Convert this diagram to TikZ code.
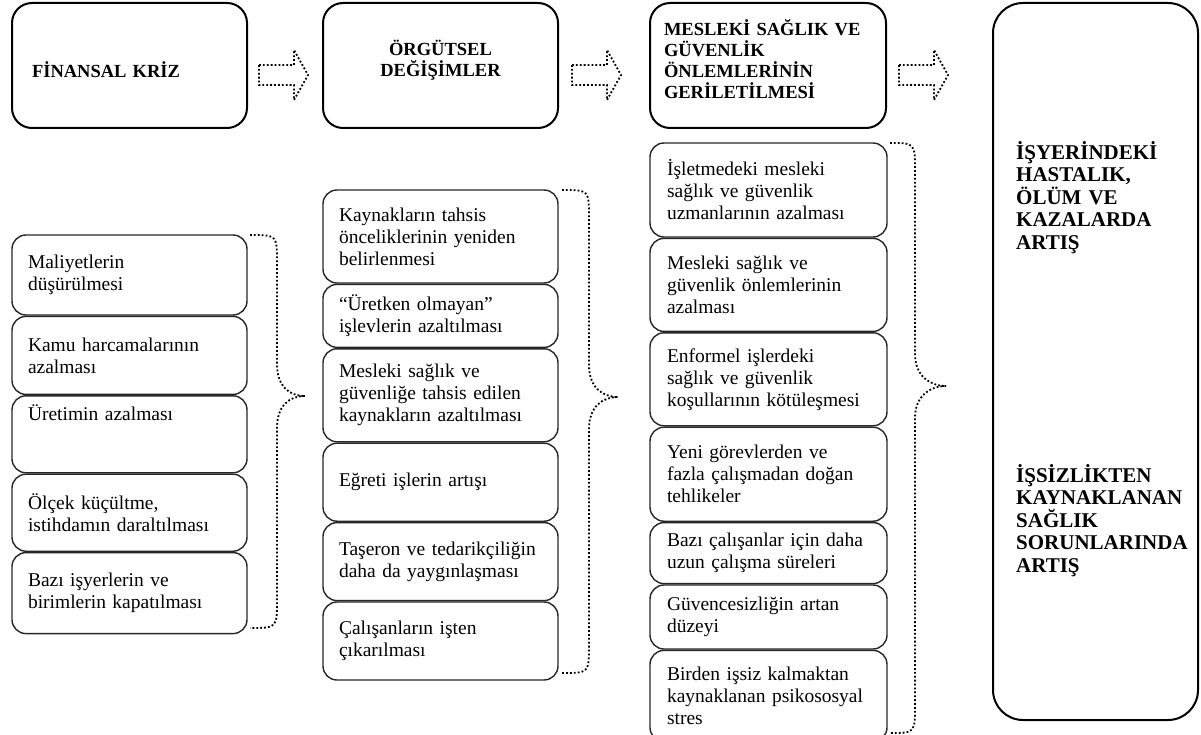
\documentclass[tikz,border=0pt]{standalone}
\usepackage{fontspec}
\setmainfont{Liberation Serif}
\usetikzlibrary{positioning}
% noktali blok ok: #1 sol x, #2 orta y
\newcommand{\blokok}[2]{%
  \draw[noktali] (#1,#2-10) -- (#1+35,#2-10) -- (#1+35,#2-25) -- (#1+49,#2)
    -- (#1+35,#2+25) -- (#1+35,#2+10) -- (#1,#2+10) -- cycle;}
% noktali kume parantezi: #1 uc x, #2 ust y, #3 alt y, #4 govde x, #5 sivri x, #6 sivri y
\newcommand{\parantez}[6]{%
  \draw[noktali] (#1,#2) .. controls (#4,#2) .. (#4,#2+28) -- (#4,#6-32)
    .. controls (#4,#6-10) and (#5-16,#6) .. (#5,#6)
    .. controls (#5-16,#6) and (#4,#6+10) .. (#4,#6+32)
    -- (#4,#3-28) .. controls (#4,#3) .. (#1,#3);}

\begin{document}
\begin{tikzpicture}[x=1pt, y=-1pt,
  baslik/.style={draw, line width=2pt, rounded corners=20pt, minimum width=235pt,
    minimum height=125pt, inner ysep=0pt, text width=195pt, align=left,
    font=\bfseries\fontsize{18.5}{21}\selectfont},
  kutu/.style={draw=black!85, line width=1.4pt, rounded corners=14pt, minimum width=235pt,
    text width=203pt, inner xsep=16pt, align=left, font=\fontsize{19.5}{22}\selectfont},
  sonucyazi/.style={inner sep=0pt, text width=178pt, align=left,
    font=\bfseries\fontsize{21}{22.5}\selectfont},
  noktali/.style={line width=1.8pt, dash pattern=on 1.8pt off 2.1pt}]
  \useasboundingbox (0,0) rectangle (1201,735);

  % ust satir
  \node[baslik, text height=75pt, text depth=50pt] (kriz) at (129.5,65.5) {FİNANSAL KRİZ};
  \node[baslik, align=center, text height=53pt, text depth=72pt] (orgut) at (440.5,65.5)
    {ÖRGÜTSEL\\DEĞİŞİMLER};
  \node[baslik, minimum width=236pt, text width=208pt, inner xsep=14pt,
    text height=33pt, text depth=92pt] (onlem) at (768,65.5)
    {MESLEKİ SAĞLIK VE\\GÜVENLİK\\ÖNLEMLERİNİN\\GERİLETİLMESİ};
  \node[draw, line width=2pt, rounded corners=30pt, minimum width=205pt,
    minimum height=717pt] (sonuc) at (1095.5,361.5) {};
  \node[sonucyazi, below right=139pt and 24pt of sonuc.north west] (artis1)
    {İŞYERİNDEKİ\\HASTALIK,\\ÖLÜM VE\\KAZALARDA\\ARTIŞ};
  \node[sonucyazi, below right=462pt and 24pt of sonuc.north west] (artis2)
    {İŞSİZLİKTEN\\KAYNAKLANAN\\SAĞLIK\\SORUNLARINDA\\ARTIŞ};

  \blokok{259}{75}
  \blokok{572}{75}
  \blokok{899}{75}

  % finansal kriz
  \node[kutu, minimum height=80pt] (f1) at (129.5,275) {Maliyetlerin\\düşürülmesi};
  \node[kutu, minimum height=78pt, below=0pt of f1] (f2) {Kamu harcamalarının\\azalması};
  \node[kutu, minimum height=77pt, below=0pt of f2] (f3) {Üretimin azalması\\ \mbox{}\\ \mbox{}};
  \node[kutu, minimum height=77pt, below=0pt of f3] (f4) {Ölçek küçültme,\\istihdamın daraltılması};
  \node[kutu, minimum height=81pt, below=0pt of f4] (f5) {Bazı işyerlerin ve\\birimlerin kapatılması};

  % orgutsel degisimler
  \node[kutu, minimum height=93pt] (o1) at (440.5,236.5)
    {Kaynakların tahsis\\önceliklerinin yeniden\\belirlenmesi};
  \node[kutu, minimum height=63pt, below=0pt of o1] (o2) {“Üretken olmayan”\\işlevlerin azaltılması};
  \node[kutu, minimum height=93pt, below=0pt of o2] (o3)
    {Mesleki sağlık ve\\güvenliğe tahsis edilen\\kaynakların azaltılması};
  \node[kutu, minimum height=78pt, below=0pt of o3] (o4) {Eğreti işlerin artışı};
  \node[kutu, minimum height=78pt, below=0pt of o4] (o5) {Taşeron ve tedarikçiliğin\\daha da yaygınlaşması};
  \node[kutu, minimum height=78pt, below=0pt of o5] (o6) {Çalışanların işten\\çıkarılması};

  % onlemlerin geriletilmesi
  \node[kutu, minimum width=237pt, minimum height=94pt] (g1) at (768.5,190)
    {İşletmedeki mesleki\\sağlık ve güvenlik\\uzmanlarının azalması};
  \node[kutu, minimum width=237pt, minimum height=93pt, below=0pt of g1] (g2)
    {Mesleki sağlık ve\\güvenlik önlemlerinin\\azalması};
  \node[kutu, minimum width=237pt, minimum height=93pt, below=0pt of g2] (g3)
    {Enformel işlerdeki\\sağlık ve güvenlik\\koşullarının kötüleşmesi};
  \node[kutu, minimum width=237pt, minimum height=94pt, below=0pt of g3] (g4)
    {Yeni görevlerden ve\\fazla çalışmadan doğan\\tehlikeler};
  \node[kutu, minimum width=237pt, minimum height=61pt, below=0pt of g4] (g5)
    {Bazı çalışanlar için daha\\uzun çalışma süreleri};
  \node[kutu, minimum width=237pt, minimum height=64pt, below=0pt of g5] (g6)
    {Güvencesizliğin artan\\düzeyi};
  \node[kutu, minimum width=237pt, minimum height=91pt, below=0pt of g6] (g7)
    {Birden işsiz kalmaktan\\kaynaklanan psikososyal\\stres};

  % parantezler
  \parantez{250}{235}{628}{277}{305}{396}
  \parantez{562}{190}{673}{589}{618}{397}
  \parantez{890}{143}{733}{915}{946}{386}
\end{tikzpicture}
\end{document}
